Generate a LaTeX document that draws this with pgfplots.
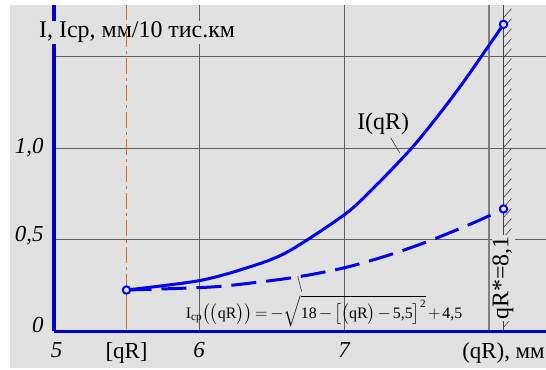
\documentclass[border=0pt]{standalone}
\usepackage{fontspec}
\setmainfont{Liberation Serif}
\usepackage{amsmath}
\usepackage{pgfplots}
\pgfplotsset{compat=1.18}
\definecolor{bg}{RGB}{225,225,225}
\definecolor{ablue}{RGB}{0,0,205}
\definecolor{cblue}{RGB}{0,0,250}
\definecolor{gridc}{RGB}{95,95,95}
\definecolor{grid8}{RGB}{128,128,128}
\definecolor{orng}{RGB}{210,110,30}
\begin{document}
\begin{tikzpicture}
\useasboundingbox (-54bp,-39bp) rectangle (492bp,331bp);
\fill[bg] (-44bp,-37bp) rectangle (492bp,326bp);
\begin{axis}[
  at={(0,0)}, anchor=south west,
  scale only axis, width=492bp, height=325.7bp,
  xmin=5, xmax=8.393, ymin=0, ymax=1.78,
  clip=false,
  axis x line=bottom, axis y line=left,
  axis line style={draw=none},
  major tick length=0pt,
  xtick={6,7}, xticklabels={6,7},
  extra x ticks={5,5.5,8.1},
  extra x tick labels={{\hspace*{5bp}5},{\upshape[qR]},{\upshape(qR), мм}},
  extra x tick style={grid=none},
  ytick={0.5,1,1.5},
  yticklabels={{\raisebox{12bp}{0,5}},{1,0},{}},
  extra y ticks={0},
  extra y tick labels={{\raisebox{13bp}{0}}},
  extra y tick style={grid=none},
  xmajorgrids, ymajorgrids,
  grid style={gridc, line width=0.9bp},
  ticklabel style={font=\fontsize{23}{27}\selectfont\itshape},
  xticklabel style={yshift=-8bp},
  yticklabel style={xshift=-7bp},
]
\addplot[grid8, line width=2.5bp] coordinates {(8,0) (8,1.78)};
\addplot[black!75, line width=0.6bp] coordinates {(8.1,0) (8.1,1.78)};
\pgfplotsinvokeforeach{0,...,31}{
  \draw[black!75, line width=0.6bp] (axis cs:8.1,{0.02+#1*0.0546}) -- ++(8bp,9bp);
}
% blue axis lines
\addplot[ablue, line width=3bp] coordinates {(5,0) (5,1.78)};
\addplot[ablue, line width=3bp] coordinates {(5,0) (8.393,0)};
\node[fill=bg, anchor=west, inner sep=1bp, font=\fontsize{24}{28}\selectfont] at (axis cs:4.89,1.634) {I, Iср, мм/10 тис.км};
\node[rotate=90, fill=bg, inner sep=1bp, font=\fontsize{24}{28}\selectfont] at (axis cs:8.097,0.29) {qR*=8,1};
\addplot[orng, line width=0.8bp] coordinates {(5.5,0.012) (5.5,0.224)};
\addplot[orng, line width=0.8bp, dash pattern=on 16bp off 4bp on 3bp off 4bp] coordinates {(5.5,0.224) (5.5,1.78)};
% I(qR)
\addplot[cblue, line width=3bp, smooth, tension=0.5] coordinates {
(5.5,0.224) (6.0,0.275) (6.329,0.345) (6.605,0.43)
(7.0,0.634) (7.202,0.78) (7.467,1.0) (7.662,1.19) (7.823,1.36) (7.95,1.504) (8.1,1.676)};
% Icp
\addplot[cblue, line width=3bp, smooth, tension=0.5, dash pattern=on 25bp off 10bp] coordinates {
(5.5,0.224) (6.076,0.240) (6.42,0.268) (6.697,0.298) (7.0,0.345) (7.29,0.41) (7.547,0.48) (7.754,0.545) (7.938,0.607) (8.1,0.667)};
\addplot[only marks, mark=*, mark size=3.7bp, mark options={draw=cblue, fill=bg, line width=2bp}] coordinates {(5.5,0.224) (8.1,1.676) (8.1,0.667)};
\node[font=\fontsize{24}{28}\selectfont] at (axis cs:7.27,1.13) {I(qR)};
\draw[black!80, line width=0.6bp] (axis cs:7.322,1.056) -- (axis cs:7.386,0.971);
\node[font=\fontsize{16}{19}\selectfont] at (axis cs:6.862,0.109) {\medmuskip=2mu\thickmuskip=3mu I\textsubscript{ср}$\bigl(\bigl(\text{qR}\bigr)\bigr)=-\sqrt{\text{18}-\bigl[\bigl(\text{qR}\bigr)-\text{5,5}\bigr]^{\text{2}}}+\text{4,5}$};
\draw[black!80, line width=0.6bp] (axis cs:6.708,0.215) -- (axis cs:6.681,0.30);
\end{axis}
\end{tikzpicture}
\end{document}
